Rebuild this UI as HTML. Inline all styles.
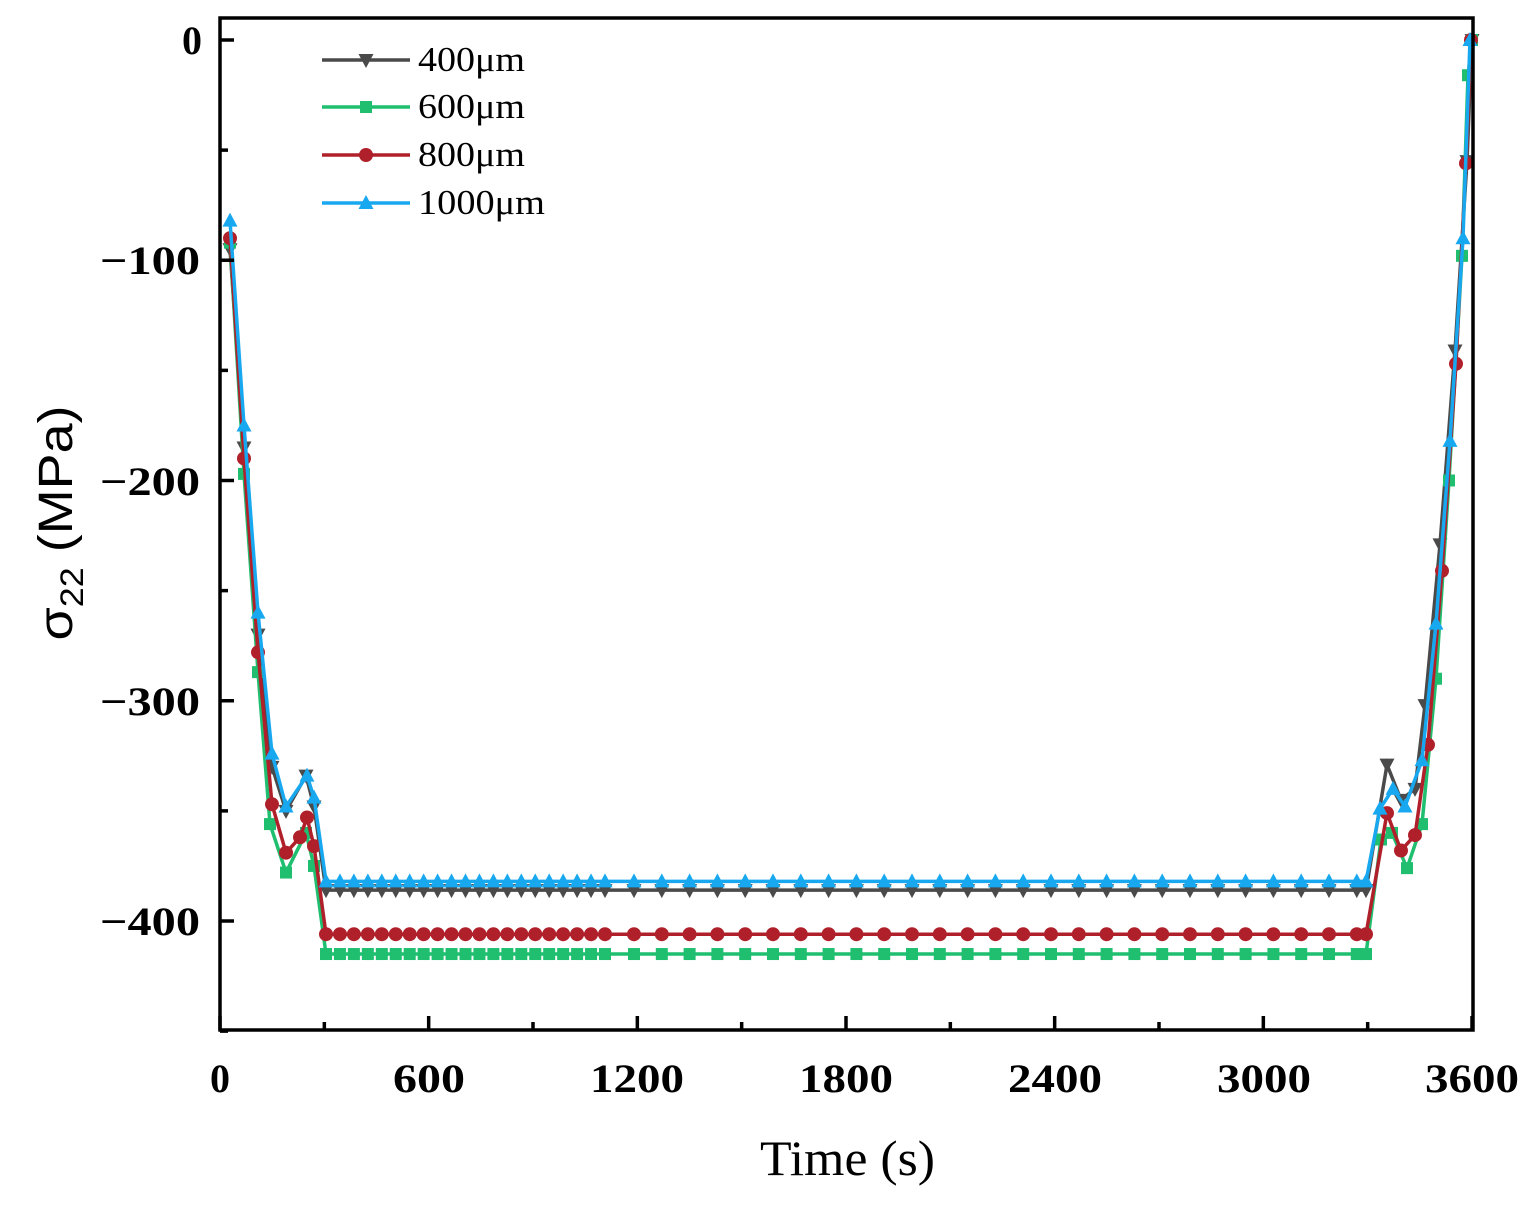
<!DOCTYPE html>
<html><head><style>body{margin:0;background:#fff}svg{display:block}</style></head><body>
<svg id="s" width="1533" height="1209" xmlns="http://www.w3.org/2000/svg">
<rect width="1533" height="1209" fill="#fff"/>
<g id="data"></g>
<rect x="220" y="18" width="1253" height="1012" fill="none" stroke="#000" stroke-width="3.5"/>
<g id="ticks" stroke="#000" stroke-width="3.5"></g>
<g font-family="Liberation Serif, serif" font-weight="bold" font-size="40" fill="#000">
<text x="220" y="1092" text-anchor="middle">0</text>
<text x="429" y="1092" text-anchor="middle" textLength="72" lengthAdjust="spacingAndGlyphs">600</text>
<text x="637" y="1092" text-anchor="middle" textLength="94" lengthAdjust="spacingAndGlyphs">1200</text>
<text x="846" y="1092" text-anchor="middle" textLength="94" lengthAdjust="spacingAndGlyphs">1800</text>
<text x="1055" y="1092" text-anchor="middle" textLength="94" lengthAdjust="spacingAndGlyphs">2400</text>
<text x="1264" y="1092" text-anchor="middle" textLength="94" lengthAdjust="spacingAndGlyphs">3000</text>
<text x="1472" y="1092" text-anchor="middle" textLength="94" lengthAdjust="spacingAndGlyphs">3600</text>
<text x="202" y="54" text-anchor="end">0</text>
<text x="200" y="274" text-anchor="end" textLength="100" lengthAdjust="spacingAndGlyphs">−100</text>
<text x="200" y="495" text-anchor="end" textLength="100" lengthAdjust="spacingAndGlyphs">−200</text>
<text x="200" y="715" text-anchor="end" textLength="100" lengthAdjust="spacingAndGlyphs">−300</text>
<text x="200" y="935" text-anchor="end" textLength="100" lengthAdjust="spacingAndGlyphs">−400</text>
</g>
<text x="760" y="1175" font-family="Liberation Serif, serif" font-size="50" textLength="175" lengthAdjust="spacingAndGlyphs">Time (s)</text>
<text transform="translate(72,523) rotate(-90)" text-anchor="middle" font-family="Liberation Sans, sans-serif" font-size="48" textLength="235" lengthAdjust="spacingAndGlyphs">σ<tspan font-size="32" dy="11">22</tspan><tspan dy="-11"> (MPa)</tspan></text>
<g font-family="Liberation Serif, serif" font-size="35" fill="#000">
<text x="418" y="71" textLength="107" lengthAdjust="spacingAndGlyphs">400μm</text><text x="418" y="118" textLength="107" lengthAdjust="spacingAndGlyphs">600μm</text><text x="418" y="166" textLength="107" lengthAdjust="spacingAndGlyphs">800μm</text><text x="418" y="214" textLength="127" lengthAdjust="spacingAndGlyphs">1000μm</text>
</g>
</svg>
<script>
const Y=v=>40-v*2.2025;
const ticks=document.getElementById('ticks');let t='';
for(let s=0;s<=3600;s+=300){const x=220+s*1252/3600;const L=s%600?8:14;t+=`<line x1="${x}" y1="1030" x2="${x}" y2="${1030-L}"/>`;}
for(let v=0;v>=-450;v-=50){const y=Y(v);const L=v%100?8:14;t+=`<line x1="220" y1="${y}" x2="${220+L}" y2="${y}"/>`;}
ticks.innerHTML=t;
function flat(v){const p=[];for(let x=326;x<=606;x+=13.95)p.push([x,v]);for(let x=634;x<1366;x+=27.8)p.push([x,v]);p.push([1366,v]);return p;}
const series=[
{c:'#4a4a4a',m:'dn',L:[[230,-95],[244,-185],[258,-270],[272,-330],[286,-350],[306,-334],[314,-348]],f:-386,R:[[1387,-329],[1401,-345],[1415,-340],[1425,-302],[1440,-229],[1455,-141],[1467,-55],[1472,0]],ly:60},
{c:'#1fbf6f',m:'sq',L:[[230,-92],[244,-197],[258,-287],[270,-356],[286,-378],[306,-360],[314,-375]],f:-415,R:[[1381,-363],[1392,-360],[1407,-376],[1422,-356],[1436,-290],[1449,-200],[1462,-98],[1468,-16],[1472,0]],ly:107},
{c:'#b0202a',m:'ci',L:[[230,-90],[244,-190],[258,-278],[272,-347],[286,-369],[300,-362],[307,-353],[314,-366]],f:-406,R:[[1387,-351],[1401,-368],[1415,-361],[1428,-320],[1442,-241],[1456,-147],[1466,-56],[1471,0]],ly:155},
{c:'#18a8f0',m:'up',L:[[230,-82],[244,-175],[258,-260],[272,-324],[286,-348],[307,-334],[314,-344]],f:-382,R:[[1380,-349],[1393,-340],[1405,-348],[1422,-327],[1436,-265],[1450,-182],[1463,-90],[1470,0]],ly:203}];
function mk(m,x,y,c){if(m=='sq')return `<rect x="${x-6}" y="${y-6}" width="12" height="12" fill="${c}"/>`;
if(m=='ci')return `<circle cx="${x}" cy="${y}" r="7" fill="${c}"/>`;
if(m=='up')return `<polygon points="${x},${y-8} ${x-7.5},${y+6} ${x+7.5},${y+6}" fill="${c}"/>`;
return `<polygon points="${x},${y+8} ${x-7.5},${y-6} ${x+7.5},${y-6}" fill="${c}"/>`;}
let h='';
for(const s of series){const pts=[...s.L,...flat(s.f),...s.R].map(p=>[p[0],Y(p[1])]);
h+=`<polyline points="${pts.map(p=>p.join(',')).join(' ')}" fill="none" stroke="${s.c}" stroke-width="3.5"/>`;
pts.forEach(p=>h+=mk(s.m,p[0],p[1],s.c));
h+=`<line x1="322" y1="${s.ly}" x2="410" y2="${s.ly}" stroke="${s.c}" stroke-width="3.5"/>`+mk(s.m,366,s.ly,s.c);}
document.getElementById('data').innerHTML=h;
</script>
</body></html>
